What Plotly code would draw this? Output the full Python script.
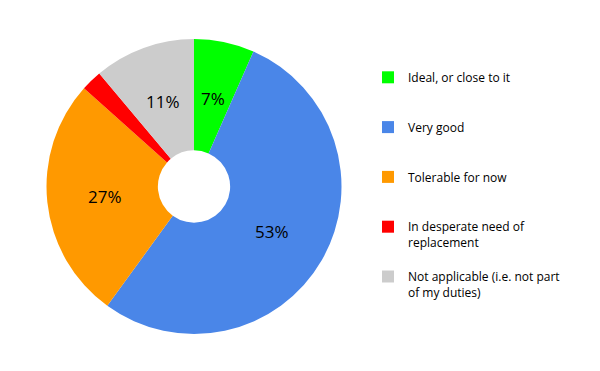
import math
import plotly.graph_objects as go

labels = ["Ideal, or close to it", "Very good", "Tolerable for now",
          "In desperate need of replacement", "Not applicable (i.e. not part of my duties)"]
legend_labels = ["Ideal, or close to it<br> <br> ", "Very good<br> <br> ", "Tolerable for now<br> <br> ",
                 "In desperate need of<br>replacement<br> ", "Not applicable (i.e. not part<br>of my duties)"]
values = [6.6, 53.4, 26.6, 2.3, 11.1]
colors = ["#00ff00", "#4a86e8", "#ff9900", "#ff0000", "#cccccc"]
show_label = [True, True, True, False, True]

# pie geometry (pixels in a 600x371 figure)
W, H = 600, 371
dom_x = [38.5, 333.5]
dom_y = [45, 340]
label_r = 90  # px radius of the percentage labels

fig = go.Figure(go.Pie(
    labels=legend_labels,
    values=values,
    marker=dict(colors=colors, line=dict(width=0)),
    hole=0.245,
    sort=False,
    direction="clockwise",
    rotation=0,
    textinfo="none",
    domain=dict(x=[dom_x[0] / W, dom_x[1] / W], y=[dom_y[0] / H, dom_y[1] / H]),
))

# percentage labels placed at the middle angle of each slice
total = sum(values)
cx = (dom_x[0] + dom_x[1]) / 2
cy = (dom_y[0] + dom_y[1]) / 2
cum = 0.0
for v, show in zip(values, show_label):
    mid = (cum + v / 2) / total * 2 * math.pi
    cum += v
    if not show:
        continue
    fig.add_annotation(
        x=(cx + label_r * math.sin(mid)) / W,
        y=(cy + label_r * math.cos(mid)) / H,
        xref="paper", yref="paper",
        xanchor="center", yanchor="middle",
        text=f"{round(v / total * 100)}%",
        showarrow=False,
        font=dict(family="Open Sans", size=17, color="black"),
    )

fig.update_layout(
    width=W, height=H,
    margin=dict(l=0, r=0, t=0, b=0),
    paper_bgcolor="white",
    showlegend=True,
    legend=dict(
        x=360/600, y=1-55/371, xanchor="left", yanchor="top",
        font=dict(family="Open Sans", size=12, color="black"),
        valign="top",
        itemwidth=30,
    ),
)

fig.write_html("out.html")
